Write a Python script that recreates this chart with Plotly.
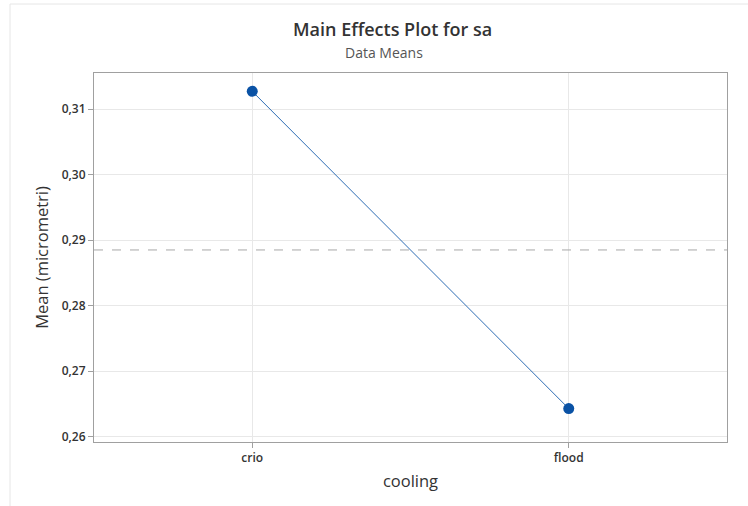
import plotly.graph_objects as go

categories = ["crio", "flood"]
means = [0.3127, 0.2643]
grand_mean = 0.2885
y_ticks = [0.26, 0.27, 0.28, 0.29, 0.30, 0.31]

W, H = 748, 506
L, R, T, B = 94, 21, 73, 64
pw, ph = W - L - R, H - T - B

def px_x(x):
    return (x - L) / pw

def px_y(y):
    return (H - B - y) / ph

fig = go.Figure()
fig.add_trace(go.Scatter(
    x=categories, y=means, mode="lines+markers",
    line=dict(color="#2e6db4", width=1),
    marker=dict(color="#0a52a5", size=11),
    showlegend=False,
))

fig.add_shape(type="line", xref="paper", yref="y", x0=0, x1=1,
              y0=grand_mean, y1=grand_mean,
              line=dict(color="#a8a8a8", width=1, dash="dash"))

# outer faint frame
fig.add_shape(type="line", xref="paper", yref="paper",
              x0=px_x(10), x1=px_x(748), y0=px_y(4), y1=px_y(4),
              line=dict(color="#e6e6e6", width=1))
fig.add_shape(type="line", xref="paper", yref="paper",
              x0=px_x(10), x1=px_x(10), y0=px_y(4), y1=px_y(506),
              line=dict(color="#e6e6e6", width=1))

font_family = "Open Sans, Noto Sans, sans-serif"

fig.update_layout(
    width=W, height=H,
    margin=dict(l=L, r=R, t=T, b=B),
    paper_bgcolor="white", plot_bgcolor="white",
    separators=",.",
    font=dict(family=font_family, color="#333333"),
    annotations=[
        dict(text="Main Effects Plot for sa", xref="paper", yref="paper",
             x=px_x(392), y=px_y(29), xanchor="center", yanchor="middle",
             showarrow=False, font=dict(size=18, color="#333333", weight=600)),
        dict(text="Data Means", xref="paper", yref="paper",
             x=px_x(384), y=px_y(52), xanchor="center", yanchor="middle",
             showarrow=False, font=dict(size=14, color="#555555")),
    ],
    xaxis=dict(
        type="category", range=[-0.5, 1.5],
        showgrid=True, gridcolor="#e8e8e8", gridwidth=1,
        showline=True, linecolor="#a0a0a0", linewidth=1, mirror=True,
        ticks="outside", ticklen=5, tickcolor="#a0a0a0",
        tickfont=dict(size=12, color="#333333", weight=600),
        title=dict(text="cooling", font=dict(size=16.5, color="#333333"), standoff=10),
        zeroline=False,
    ),
    yaxis=dict(
        range=[0.2592, 0.3155],
        tickvals=y_ticks, tickformat=".2f",
        showgrid=True, gridcolor="#e8e8e8", gridwidth=1,
        showline=True, linecolor="#a0a0a0", linewidth=1, mirror=True,
        ticks="outside", ticklen=5, tickcolor="#a0a0a0",
        tickfont=dict(size=12, color="#333333", weight=600),
        title=dict(text="Mean (micrometri)", font=dict(size=16.5, color="#333333"), standoff=8),
        zeroline=False,
    ),
)

fig.write_html("out.html")
